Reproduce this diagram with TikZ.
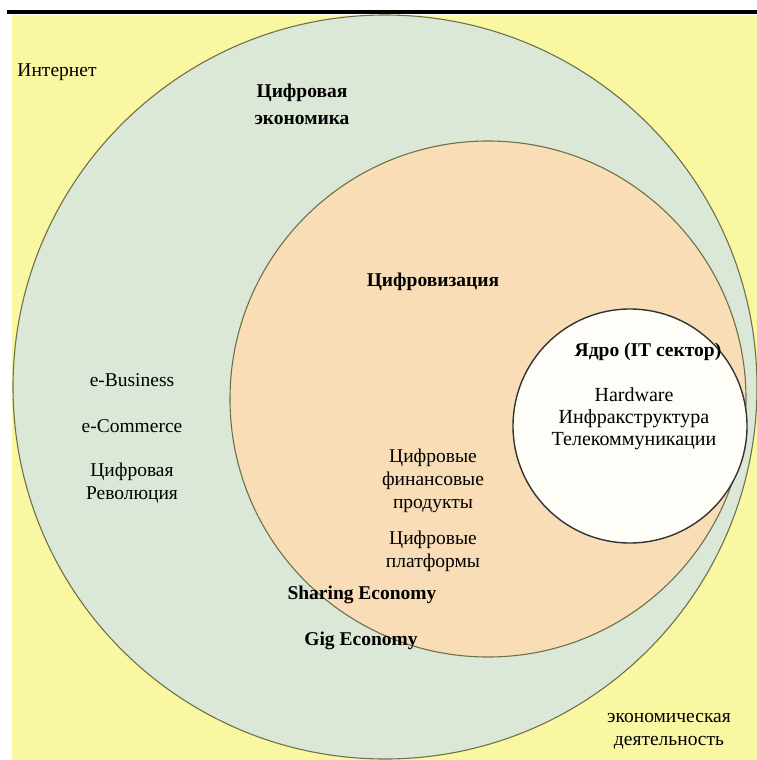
\documentclass[tikz,border=0pt]{standalone}
\usepackage{fontspec}
\setmainfont{Liberation Serif}
\definecolor{bgyellow}{HTML}{FAF7A2}
\definecolor{greenfill}{HTML}{DCE8D7}
\definecolor{orangefill}{HTML}{F8DDB6}
\definecolor{whitefill}{HTML}{FFFDF8}
\definecolor{edgeolive}{HTML}{6E7048}
\begin{document}
\begin{tikzpicture}[x=1pt,y=-1pt,
  ring/.style={circle, inner sep=0pt, draw=edgeolive, line width=1.1pt},
  lbl/.style={inner sep=1pt, align=center, font=\fontsize{19.5}{23}\selectfont},
  blbl/.style={lbl, font=\fontsize{19.5}{27}\selectfont\bfseries}]
\useasboundingbox (0,0) rectangle (757,760);
\fill[white] (0,0) rectangle (757,760);
\fill[bgyellow] (12,15) rectangle (757,760);
\fill[black] (7,10) rectangle (757,14.5);
\node[ring, fill=greenfill, minimum size=744pt] (econ) at (385,387) {};
\node[ring, fill=orangefill, minimum size=516pt] (digit) at (488,399) {};
\node[ring, fill=whitefill, draw=black!80, line width=1.4pt, minimum size=234pt] (core) at (630,426) {};
\node[lbl] (internet) at (57,72) {Интернет};
\node[blbl] (de) at (302,104) {Цифровая\\экономика};
\node[blbl] (dz) at (433,282) {Цифровизация};
\node[blbl] (coret) at (648,352) {Ядро (IT сектор)};
\node[lbl, font=\fontsize{20}{22}\selectfont] (hw) at (634,419) {Hardware\\Инфракструктура\\Телекоммуникации};
\node[lbl] (fin) at (433,481) {Цифровые\\финансовые\\продукты};
\node[lbl] (plat) at (433,551) {Цифровые\\платформы};
\node[lbl] (eb) at (132,380) {e-Business};
\node[lbl] (ec) at (132,426) {e-Commerce};
\node[lbl] (rev) at (132,483) {Цифровая\\Революция};
\node[blbl] (share) at (362,595) {Sharing Economy};
\node[blbl] (gig) at (361,641) {Gig Economy};
\node[lbl] (act) at (669,731) {экономическая\\деятельность};
\end{tikzpicture}
\end{document}
